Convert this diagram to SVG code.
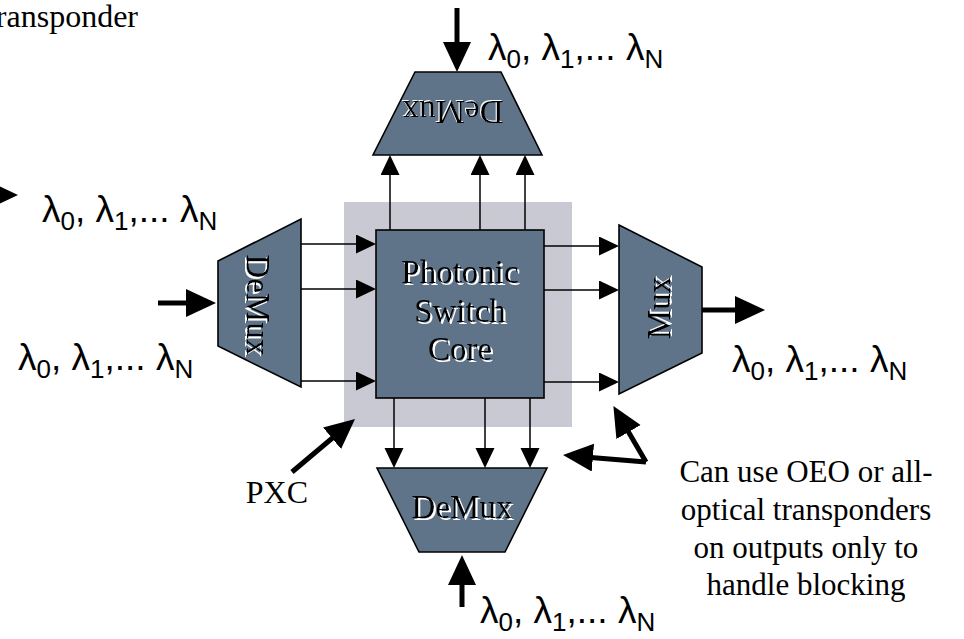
<svg xmlns="http://www.w3.org/2000/svg" width="964" height="639" viewBox="0 0 964 639">
<style>
.shape{fill:#5f7489;stroke:#000;stroke-width:1.6}
.thin{stroke:#000;stroke-width:1.5;fill:none}
.thick{stroke:#000;stroke-width:5;fill:none}
.serif{font-family:"Liberation Serif","Times New Roman",serif;fill:#000}
.box{font-size:33px}
.note{font-size:31px}
.lam{font-family:"Liberation Sans",Arial,sans-serif;font-size:37px;fill:#000}
.sub{font-size:26px}
</style>
<defs>
<marker id="ah" markerUnits="userSpaceOnUse" markerWidth="22" markerHeight="20" refX="1" refY="9.5" orient="auto" viewBox="0 0 22 20">
<path d="M0,0 L20,9.5 L0,19 z" fill="#000"/>
</marker>
<marker id="ahb" markerUnits="userSpaceOnUse" markerWidth="32" markerHeight="30" refX="2" refY="14" orient="auto" viewBox="0 0 32 30">
<path d="M0,0 L30,14 L0,28 z" fill="#000"/>
</marker>
<filter id="emb" x="-10%" y="-10%" width="120%" height="130%">
<feOffset in="SourceAlpha" dx="1.5" dy="1.5" result="o"/>
<feFlood flood-color="#ffffff"/>
<feComposite in2="o" operator="in" result="w"/>
<feMerge><feMergeNode in="w"/><feMergeNode in="SourceGraphic"/></feMerge>
</filter>
</defs>
<rect width="964" height="639" fill="#fff"/>

<g id="pxc-area">
<rect x="344" y="202" width="228" height="225" fill="#c9c9d3"/>
</g>

<g id="core">
<rect class="shape" x="376" y="230" width="168" height="168"/>
<text class="serif box" text-anchor="middle" filter="url(#emb)"><tspan x="460" y="283">Photonic</tspan><tspan x="460" y="322">Switch</tspan><tspan x="460" y="360">Core</tspan></text>
</g>

<g id="demux-left">
<polygon class="shape" points="218,261 301,219 301,387 218,346"/>
<text class="serif box" text-anchor="middle" filter="url(#emb)" transform="translate(259,305) rotate(90)" x="0" y="12">DeMux</text>
</g>

<g id="mux-right">
<polygon class="shape" points="619,225 702,267 702,353 619,394"/>
<text class="serif box" text-anchor="middle" filter="url(#emb)" transform="translate(658,308) rotate(-90)" x="0" y="12">Mux</text>
</g>

<g id="demux-top">
<polygon class="shape" points="415,72 501,72 542,155 373,155"/>
<text class="serif box" text-anchor="middle" filter="url(#emb)" transform="translate(453,113) rotate(180)" x="0" y="12">DeMux</text>
</g>

<g id="demux-bottom">
<polygon class="shape" points="377,468 547,468 505,552 419,552"/>
<text class="serif box" text-anchor="middle" filter="url(#emb)" x="462" y="518">DeMux</text>
</g>

<g id="connectors">
<line class="thin" x1="301" y1="244" x2="357" y2="244" marker-end="url(#ah)"/>
<line class="thin" x1="301" y1="289" x2="357" y2="289" marker-end="url(#ah)"/>
<line class="thin" x1="301" y1="381" x2="357" y2="381" marker-end="url(#ah)"/>
<line class="thin" x1="544" y1="246" x2="600" y2="246" marker-end="url(#ah)"/>
<line class="thin" x1="544" y1="290" x2="600" y2="290" marker-end="url(#ah)"/>
<line class="thin" x1="544" y1="382" x2="600" y2="382" marker-end="url(#ah)"/>
<line class="thin" x1="390" y1="230" x2="390" y2="174" marker-end="url(#ah)"/>
<line class="thin" x1="480" y1="230" x2="480" y2="174" marker-end="url(#ah)"/>
<line class="thin" x1="525" y1="230" x2="525" y2="174" marker-end="url(#ah)"/>
<line class="thin" x1="394" y1="398" x2="394" y2="449" marker-end="url(#ah)"/>
<line class="thin" x1="485" y1="398" x2="485" y2="449" marker-end="url(#ah)"/>
<line class="thin" x1="530" y1="398" x2="530" y2="449" marker-end="url(#ah)"/>
<line class="thick" x1="457" y1="8" x2="457" y2="44" marker-end="url(#ahb)"/>
<line class="thick" x1="-40" y1="195" x2="-10" y2="195" marker-end="url(#ahb)"/>
<line class="thick" x1="158" y1="303" x2="188" y2="303" marker-end="url(#ahb)"/>
<line class="thick" x1="702" y1="310" x2="737" y2="310" marker-end="url(#ahb)"/>
<line class="thick" x1="462" y1="607" x2="462" y2="583" marker-end="url(#ahb)"/>
<line class="thick" x1="292" y1="472" x2="333.6" y2="437" marker-end="url(#ahb)"/>
<line class="thick" x1="646" y1="462" x2="627.5" y2="430.3" marker-end="url(#ahb)"/>
<line class="thick" x1="646" y1="462" x2="590.9" y2="457.4" marker-end="url(#ahb)"/>
</g>

<g id="labels">
<text class="serif" font-size="32" text-anchor="end" x="138" y="27">transponder</text>
<text class="lam" x="488" y="60">λ<tspan class="sub" dy="8">0</tspan><tspan dy="-8">, λ</tspan><tspan class="sub" dy="8">1</tspan><tspan dy="-8">,... λ</tspan><tspan class="sub" dy="8">N</tspan></text>
<text class="lam" x="42" y="222">λ<tspan class="sub" dy="8">0</tspan><tspan dy="-8">, λ</tspan><tspan class="sub" dy="8">1</tspan><tspan dy="-8">,... λ</tspan><tspan class="sub" dy="8">N</tspan></text>
<text class="lam" x="18" y="370">λ<tspan class="sub" dy="8">0</tspan><tspan dy="-8">, λ</tspan><tspan class="sub" dy="8">1</tspan><tspan dy="-8">,... λ</tspan><tspan class="sub" dy="8">N</tspan></text>
<text class="lam" x="732" y="372">λ<tspan class="sub" dy="8">0</tspan><tspan dy="-8">, λ</tspan><tspan class="sub" dy="8">1</tspan><tspan dy="-8">,... λ</tspan><tspan class="sub" dy="8">N</tspan></text>
<text class="lam" x="480" y="623">λ<tspan class="sub" dy="8">0</tspan><tspan dy="-8">, λ</tspan><tspan class="sub" dy="8">1</tspan><tspan dy="-8">,... λ</tspan><tspan class="sub" dy="8">N</tspan></text>
<text class="serif" font-size="32" text-anchor="end" x="308" y="503">PXC</text>
<text class="serif note" text-anchor="middle"><tspan x="806" y="482">Can use OEO or all-</tspan><tspan x="806" y="520">optical transponders</tspan><tspan x="806" y="558">on outputs only to</tspan><tspan x="806" y="595">handle blocking</tspan></text>
</g>
</svg>
